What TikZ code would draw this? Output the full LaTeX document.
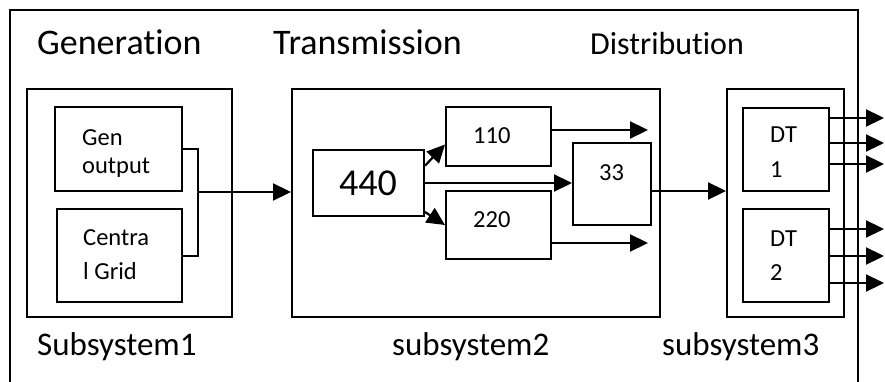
\documentclass[tikz,border=0pt]{standalone}
\usepackage{fontspec}
\setmainfont{Carlito}[Ligatures=NoCommon]
\usetikzlibrary{arrows.meta}
\begin{document}
\begin{tikzpicture}[x=1pt,y=-1pt,
  box/.style={draw, line width=2pt, inner sep=0pt},
  arr/.style={line width=2.2pt, -{Triangle[length=18pt,width=17pt]}},
  wire/.style={line width=2pt},
  head/.style={font=\fontsize{36}{42}\selectfont, inner sep=0pt, anchor=base west},
  big/.style={font=\fontsize{33}{40}\selectfont, inner sep=0pt, anchor=base west},
  dist/.style={font=\fontsize{32}{36}\selectfont, inner sep=0pt, anchor=base west},
  huge/.style={font=\fontsize{38}{44}\selectfont, inner sep=0pt, anchor=base west},
  small/.style={font=\fontsize{24.5}{34}\selectfont, inner sep=0pt, anchor=base west, align=left},
]
\useasboundingbox (0,0) rectangle (885,382);
\draw[line width=2pt] (10,395) -- (10,10) -- (858,10) -- (858,395);

% boxes
\node[box, minimum width=205pt, minimum height=228pt] (sub1) at (129.5,203) {};
\node[box, minimum width=127pt, minimum height=84pt] (gen) at (118.5,149) {};
\node[box, minimum width=125pt, minimum height=93pt] (grid) at (119.5,255.5) {};
\node[box, minimum width=368pt, minimum height=228pt] (sub2) at (476,203) {};
\node[box, minimum width=111pt, minimum height=66pt] (n440) at (368.5,183) {};
\node[box, minimum width=105pt, minimum height=59pt] (n110) at (498.5,136.5) {};
\node[box, minimum width=105pt, minimum height=68pt] (n220) at (498.5,225) {};
\node[box, minimum width=78pt, minimum height=82pt] (n33) at (612,184) {};
\node[box, minimum width=117pt, minimum height=228pt] (sub3) at (785.5,203) {};
\node[box, minimum width=86pt, minimum height=83pt] (dt1) at (786,149.5) {};
\node[box, minimum width=86pt, minimum height=93pt] (dt2) at (786,255.5) {};

% texts
\node[head] (tgen) at (37,55) {Generation};
\node[head] (ttra) at (273,55) {Transmission};
\node[dist] (tdis) at (590,55) {Distribution};
\node[big] (ts1) at (37,355) {Subsystem1};
\node[big] (ts2) at (392,355) {subsystem2};
\node[big] (ts3) at (662,355) {subsystem3};
\node[small] (lgen) at (82,173) {Gen\\[-6pt]output};
\node[small] (lgrid) at (83,279) {Centra\\l Grid};
\node[huge] (l440) at (339,195) {440};
\node[small] (l110) at (473,144) {110};
\node[small] (l220) at (473,227) {220};
\node[small] (l33) at (599,180) {33};
\node[small] (ldt1) at (770,177) {DT\\1};
\node[small] (ldt2) at (770,280) {DT\\2};

% connectors
\coordinate (bj) at (198,192);
\draw[wire] (gen.east) -| (bj) |- (grid.east);
\draw[arr] (bj) -- (bj -| sub2.west);
\draw[arr] (n440.17) -- ([yshift=-8pt]n110.west);
\draw[arr] ([yshift=-29pt]n440.east) -- (n220.west);
\draw[arr] (n440.east) -- (n440.east -| n33.west);
\coordinate (o110) at (648,130);
\draw[arr] (n110.east |- o110) -- (o110);
\coordinate (o220) at (648,243);
\draw[arr] (n220.east |- o220) -- (o220);
\draw[arr] ([yshift=-7pt]n33.east) -- ([yshift=-7pt]n33.east -| sub3.west);
\coordinate (d1a) at (884,118);
\coordinate (d1b) at (884,143);
\coordinate (d1c) at (884,164);
\coordinate (d2a) at (884,229);
\coordinate (d2b) at (884,256);
\coordinate (d2c) at (884,283);
\foreach \c in {d1a,d1b,d1c} \draw[arr] (dt1.east |- \c) -- (\c);
\foreach \c in {d2a,d2b,d2c} \draw[arr] (dt2.east |- \c) -- (\c);
\end{tikzpicture}
\end{document}
